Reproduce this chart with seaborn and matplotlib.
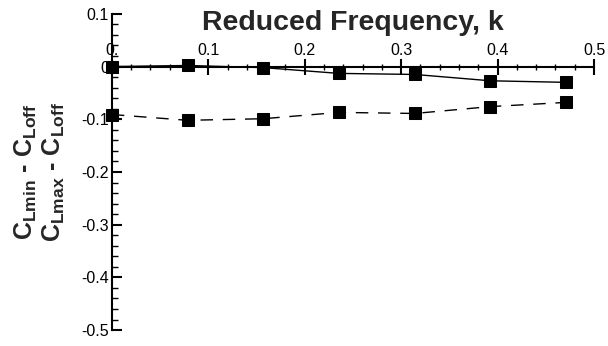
import matplotlib
matplotlib.use("Agg")
import matplotlib.pyplot as plt
from matplotlib.ticker import MultipleLocator, FixedLocator, FixedFormatter
import seaborn as sns
import pandas as pd

# Reduced frequency and lift-coefficient differences
k = [0.0, 0.0785, 0.157, 0.2355, 0.314, 0.3925, 0.471]
cl_min_minus_off = [0.0, 0.002, -0.002, -0.013, -0.015, -0.027, -0.030]
cl_max_minus_off = [-0.091, -0.102, -0.099, -0.087, -0.089, -0.076, -0.068]

x_ticks = [0.0, 0.1, 0.2, 0.3, 0.4, 0.5]
x_tick_labels = ["0.", "0.1", "0.2", "0.3", "0.4", "0.5"]
y_ticks = [0.1, 0.0, -0.1, -0.2, -0.3, -0.4, -0.5]
y_tick_labels = ["0.1", "0", "-0.1", "-0.2", "-0.3", "-0.4", "-0.5"]

sns.set_theme(style="white")
plt.rcParams["font.family"] = ["Liberation Sans", "DejaVu Sans"]
plt.rcParams["mathtext.fontset"] = "custom"
plt.rcParams["mathtext.rm"] = "Liberation Sans"
plt.rcParams["mathtext.bf"] = "Liberation Sans:bold"

df = pd.DataFrame({"k": k, "min": cl_min_minus_off, "max": cl_max_minus_off})

fig = plt.figure(figsize=(6.08, 3.46), dpi=100)
ax = fig.add_axes([0.184, 0.046, 0.793, 0.914])

sns.lineplot(data=df, x="k", y="min", ax=ax, color="black", linewidth=1.0,
             marker="s", markersize=9, markeredgecolor="black",
             markerfacecolor="black", zorder=3, clip_on=False)
sns.lineplot(data=df, x="k", y="max", ax=ax, color="black", linewidth=1.0,
             linestyle=(0, (9, 7)), marker="s", markersize=9,
             markeredgecolor="black", markerfacecolor="black", zorder=3,
             clip_on=False)

ax.set_xlim(0, 0.5)
ax.set_ylim(-0.5, 0.1)

# x axis drawn along y = 0 with labels on top
ax.spines["top"].set_position(("data", 0))
ax.spines["bottom"].set_visible(False)
ax.spines["right"].set_visible(False)
for s in ("top", "left"):
    ax.spines[s].set_linewidth(1.5)
    ax.spines[s].set_color("black")

ax.xaxis.tick_top()
ax.xaxis.set_major_locator(FixedLocator(x_ticks))
ax.xaxis.set_major_formatter(FixedFormatter(x_tick_labels))
ax.xaxis.set_minor_locator(MultipleLocator(0.02))
ax.yaxis.set_major_locator(FixedLocator(y_ticks))
ax.yaxis.set_major_formatter(FixedFormatter(y_tick_labels))
ax.yaxis.set_minor_locator(MultipleLocator(0.02))

ax.tick_params(axis="x", which="major", direction="inout", length=11, width=1.5,
               labelsize=11.5, pad=1, colors="black")
ax.tick_params(axis="x", which="minor", direction="inout", length=5, width=1.0,
               colors="black")
ax.tick_params(axis="y", which="major", direction="in", length=7, width=1.5,
               labelsize=11.5, pad=2, colors="black")
ax.tick_params(axis="y", which="minor", direction="in", length=4, width=1.0,
               colors="black")
ax.tick_params(axis="y", which="both", left=True)
ax.tick_params(axis="x", which="both", top=True, bottom=False)

ax.set_xlabel("Reduced Frequency, k", fontsize=20.5, fontweight="bold")
ax.xaxis.set_label_position("top")
ax.xaxis.set_label_coords(0.5, 0.972)
ax.xaxis.label.set_va("center")

ax.set_ylabel(r"$\mathbf{C}_{\mathbf{Lmin}}$ - $\mathbf{C}_{\mathbf{Loff}}$" "\n"
              r"$\mathbf{C}_{\mathbf{Lmax}}$ - $\mathbf{C}_{\mathbf{Loff}}$",
              fontsize=18, fontweight="bold", linespacing=1.1)
ax.yaxis.label.set_va("center")
ax.yaxis.set_label_coords(-0.149, 0.5)

ax.grid(False)
fig.savefig("out.png", dpi=100)
